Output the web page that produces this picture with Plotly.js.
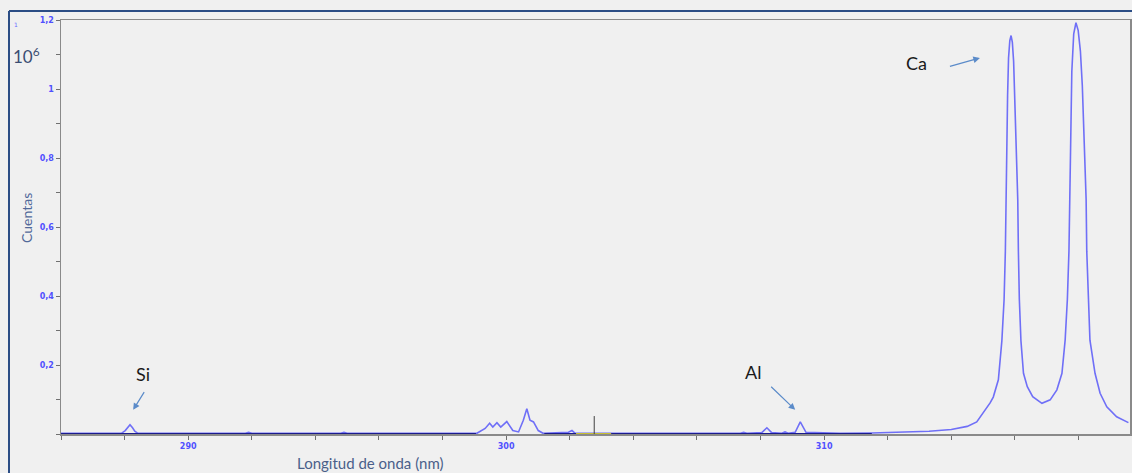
<!DOCTYPE html>
<html>
<head>
<meta charset="utf-8">
<script src="https://cdn.plot.ly/plotly-3.0.1.min.js"></script>
<style>
  html, body { margin: 0; padding: 0; background: #f0f0f0; }
  #chart { width: 1132px; height: 473px; }
</style>
</head>
<body>
<div id="chart"></div>
<script>
// Spectrum: wavelength (nm) and counts (x10^6)
const wavelength = [
  286.0, 287.9, 288.02, 288.1, 288.17, 288.25, 288.32, 288.42,
  291.8, 291.9, 292.0, 294.8, 294.9, 295.0, 297.4, 297.5, 297.6,
  299.08, 299.34, 299.48, 299.58, 299.71, 299.83, 300.02, 300.21, 300.39,
  300.54, 300.65, 300.75, 300.86, 301.01, 301.16, 301.96, 302.07, 302.17,
  304.64, 304.74, 304.84, 306.53, 306.63, 306.73, 307.37, 307.47, 307.57,
  308.04, 308.2, 308.35, 308.67, 308.77, 308.87, 309.09, 309.25, 309.43,
  310.5, 311.5, 312.5, 313.3, 314.0, 314.5, 314.8, 315.01, 315.22, 315.32,
  315.48, 315.59, 315.66, 315.70, 315.72, 315.745, 315.77, 315.80, 315.84, 315.88,
  315.92, 315.96, 316.00, 316.05, 316.09, 316.11, 316.14, 316.19, 316.27, 316.39,
  316.56, 316.85, 317.11, 317.32, 317.48, 317.58, 317.65, 317.70, 317.72,
  317.75, 317.79, 317.85, 317.92, 317.99, 318.06, 318.12, 318.18, 318.24,
  318.26, 318.31, 318.36, 318.52, 318.68, 318.89, 319.20, 319.57
];
const counts = [
  0.002, 0.002, 0.010, 0.020, 0.027, 0.018, 0.008, 0.002,
  0.002, 0.005, 0.002, 0.002, 0.005, 0.002, 0.002, 0.004, 0.002,
  0.002, 0.016, 0.031, 0.020, 0.033, 0.020, 0.036, 0.010, 0.006,
  0.040, 0.073, 0.040, 0.035, 0.010, 0.002, 0.005, 0.010, 0.002,
  0.002, 0.004, 0.002, 0.002, 0.004, 0.002, 0.002, 0.005, 0.002,
  0.004, 0.018, 0.004, 0.002, 0.006, 0.002, 0.005, 0.035, 0.005,
  0.002, 0.003, 0.005, 0.008, 0.013, 0.022, 0.035, 0.061, 0.090, 0.107,
  0.157, 0.270, 0.390, 0.530, 0.680, 0.850, 0.980, 1.090, 1.140, 1.155,
  1.135, 1.080, 0.960, 0.800, 0.680, 0.530, 0.390, 0.270, 0.176, 0.137,
  0.108, 0.089, 0.099, 0.128, 0.176, 0.272, 0.390, 0.530, 0.680,
  0.860, 1.050, 1.160, 1.192, 1.170, 1.110, 1.010, 0.860, 0.680,
  0.530, 0.390, 0.272, 0.176, 0.118, 0.079, 0.050, 0.033
];
// Dark baseline segments (null = gap)
const baseX = [286.0, 299.05, null, 301.2, 302.2, null, 303.3, 311.5];
const baseY = [0, 0, null, 0, 0, null, 0, 0];
// Yellow marked region on the baseline
const markX = [302.2, 303.3];
const markY = [0, 0];
// Cursor line
const cursorX = [302.77, 302.77];
const cursorY = [0, 0.052];

// Ticks
const xTickVals = [290, 300, 310];
const xTickText = ['290', '300', '310'];
const yTickVals = [0.2, 0.4, 0.6, 0.8, 1.0, 1.2];
const yTickText = ['0,2', '0,4', '0,6', '0,8', '1', '1,2'];

// Labels: text position (pixels), arrow head (data), arrow tail offset (pixels)
const peakLabels = [
  {text: 'Si', px: 143, py: 374, hx: 288.27, hy: 0.07, ax: 13, ay: -21},
  {text: 'Al', px: 753, py: 372, hx: 309.09, hy: 0.07, ax: -26, ay: -25},
  {text: 'Ca', px: 916, py: 63, hx: 314.9, hy: 1.09, ax: -32, ay: 9}
];

const L = 61, R = 1130, T = 20, B = 434;
const px2paper = p => (p - L) / (R - L);
const py2paper = p => (B - p) / (B - T);

const traces = [
  {x: wavelength, y: counts, type: 'scatter', mode: 'lines',
   line: {color: '#6f6ff7', width: 1.6}, hoverinfo: 'skip'},
  {x: baseX, y: baseY, type: 'scatter', mode: 'lines', connectgaps: false,
   line: {color: '#1c1c8c', width: 2.2}, hoverinfo: 'skip'},
  {x: markX, y: markY, type: 'scatter', mode: 'lines',
   line: {color: '#c8c030', width: 2.2}, hoverinfo: 'skip'},
  {x: cursorX, y: cursorY, type: 'scatter', mode: 'lines',
   line: {color: '#404040', width: 1}, hoverinfo: 'skip'}
];

const annotations = [];
peakLabels.forEach(p => {
  annotations.push({
    text: p.text, xref: 'paper', yref: 'paper',
    x: px2paper(p.px), y: py2paper(p.py), xanchor: 'center', yanchor: 'middle',
    showarrow: false, font: {family: 'Lato, Open Sans, sans-serif', size: 18, color: '#1a1a1a'}
  });
  annotations.push({
    text: ' ', x: p.hx, y: p.hy, xref: 'x', yref: 'y',
    showarrow: true, ax: p.ax, ay: p.ay, arrowhead: 2, arrowsize: 1.1,
    arrowwidth: 1.2, arrowcolor: '#5b8bc9', standoff: 0, startstandoff: 0,
    font: {size: 4}
  });
});
annotations.push({
  text: '10<sup>6</sup>', xref: 'paper', yref: 'paper',
  x: px2paper(11), y: py2paper(55), xanchor: 'left', yanchor: 'middle',
  showarrow: false, font: {family: 'Lato, Open Sans, sans-serif', size: 17, color: '#3b4d72'}
});
annotations.push({
  text: '1', xref: 'paper', yref: 'paper',
  x: px2paper(16), y: py2paper(24), xanchor: 'center', yanchor: 'middle',
  showarrow: false, font: {family: 'DejaVu Sans, sans-serif', size: 6, color: '#6a6aff'}
});
annotations.push({
  text: 'Cuentas', xref: 'paper', yref: 'paper',
  x: px2paper(26), y: py2paper(218), xanchor: 'center', yanchor: 'middle', textangle: -90,
  showarrow: false, font: {family: 'Lato, Open Sans, sans-serif', size: 14, color: '#52699a'}
});
annotations.push({
  text: 'Longitud de onda (nm)', xref: 'paper', yref: 'paper',
  x: px2paper(370), y: py2paper(463), xanchor: 'center', yanchor: 'middle',
  showarrow: false, font: {family: 'Lato, Open Sans, sans-serif', size: 15, color: '#4a5f8a'}
});

const layout = {
  width: 1132, height: 473,
  margin: {l: L, r: 1132 - R, t: T, b: 473 - B, pad: 0},
  paper_bgcolor: '#f0f0f0', plot_bgcolor: '#f0f0f0',
  showlegend: false,
  separators: ',.',
  xaxis: {
    range: [286.0, 319.62], showgrid: false, zeroline: false, layer: 'below traces',
    showline: true, linecolor: '#8a8a8a', linewidth: 1.5, mirror: true,
    tickmode: 'array', tickvals: xTickVals, ticktext: xTickText,
    ticks: 'outside', ticklen: 4, tickcolor: '#707070', tickwidth: 1,
    tickfont: {family: 'DejaVu Sans, sans-serif', size: 8, color: '#5050ff', weight: 'bold'},
    minor: {tick0: 286, dtick: 2, ticks: 'outside', ticklen: 4, tickcolor: '#707070', showgrid: false}
  },
  yaxis: {
    range: [0, 1.2], showgrid: false, zeroline: false, layer: 'below traces',
    showline: true, linecolor: '#8a8a8a', linewidth: 1.5, mirror: true,
    tickmode: 'array', tickvals: yTickVals, ticktext: yTickText,
    ticks: 'outside', ticklen: 4, tickcolor: '#707070', tickwidth: 1,
    tickfont: {family: 'DejaVu Sans, sans-serif', size: 8, color: '#5050ff', weight: 'bold'},
    minor: {tick0: 0, dtick: 0.1, ticks: 'outside', ticklen: 4, tickcolor: '#707070', showgrid: false}
  },
  annotations: annotations,
  shapes: [
    {type: 'line', xref: 'paper', yref: 'paper', x0: px2paper(9), x1: px2paper(9),
     y0: py2paper(11), y1: py2paper(473), line: {color: '#2b4d85', width: 2}},
    {type: 'line', xref: 'paper', yref: 'paper', x0: px2paper(9), x1: px2paper(1132),
     y0: py2paper(11), y1: py2paper(11), line: {color: '#2b4d85', width: 2}}
  ]
};

Plotly.newPlot('chart', traces, layout, {displayModeBar: false, staticPlot: true});
</script>
</body>
</html>
